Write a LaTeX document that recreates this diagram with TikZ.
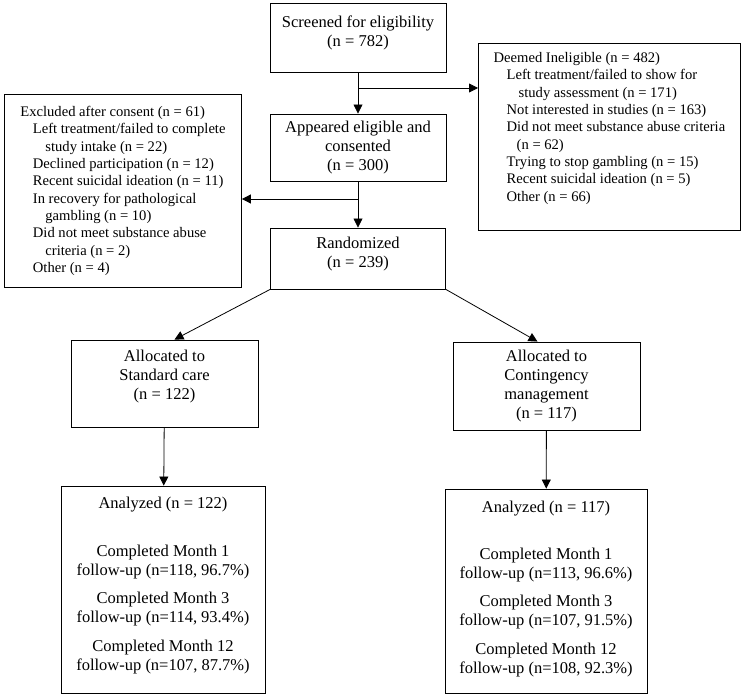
\documentclass[tikz,border=0pt]{standalone}
\usepackage{fontspec}
\setmainfont{Liberation Serif}
\usetikzlibrary{arrows.meta}

\begin{document}
\begin{tikzpicture}[x=1pt,y=-1pt,
    box/.style={draw,line width=0.9pt,align=center,inner sep=0pt,font=\fontsize{16.5}{19}\selectfont},
    sidebox/.style={draw,line width=0.9pt,anchor=north west,align=left,inner sep=0pt,font=\fontsize{14.6}{17.3}\selectfont},
    arr/.style={line width=0.8pt,-{Triangle[length=9pt,width=9pt]}}]
    \useasboundingbox (0,0) rectangle (745,698);

    \node[box,minimum width=176pt,minimum height=69pt] (screen) at (358,37.5) {Screened for eligibility\\(n = 782)\\[-6pt]};
    \node[box,minimum width=176pt,minimum height=67pt] (elig) at (358,147.5) {Appeared eligible and\\consented\\(n = 300)};
    \node[box,minimum width=175pt,minimum height=61pt] (rand) at (358,258.5) {Randomized\\(n = 239)\\[-7pt]};

    \node[sidebox,minimum width=237pt,minimum height=193pt] (excl) at (4,94) {Excluded after consent (n = 61)\\
        \hspace*{12.5pt}Left treatment/failed to complete\\
        \hspace*{25pt}study intake (n = 22)\\
        \hspace*{12.5pt}Declined participation (n = 12)\\
        \hspace*{12.5pt}Recent suicidal ideation (n = 11)\\
        \hspace*{12.5pt}In recovery for pathological\\
        \hspace*{25pt}gambling (n = 10)\\
        \hspace*{12.5pt}Did not meet substance abuse\\
        \hspace*{25pt}criteria (n = 2)\\
        \hspace*{12.5pt}Other (n = 4)};
    \node[sidebox,minimum width=262pt,minimum height=187pt] (inelig) at (478,43) {Deemed Ineligible (n = 482)\\
        \hspace*{13pt}Left treatment/failed to show for\\
        \hspace*{25pt}study assessment (n = 171)\\
        \hspace*{13pt}Not interested in studies (n = 163)\\
        \hspace*{13pt}Did not meet substance abuse criteria\\
        \hspace*{23pt}(n = 62)\\
        \hspace*{13pt}Trying to stop gambling (n = 15)\\
        \hspace*{13pt}Recent suicidal ideation (n = 5)\\
        \hspace*{13pt}Other (n = 66)\\[3pt]};

    \node[box,minimum width=187pt,minimum height=87pt] (allocSC) at (164.5,383.5) {Allocated to\\Standard care\\(n = 122)\\[-2pt]};
    \node[box,minimum width=187pt,minimum height=88pt] (allocCM) at (546.5,386) {Allocated to\\Contingency\\management\\(n = 117)};

    \node[box,minimum width=204pt,minimum height=207pt] (analSC) at (163,589.5) {Analyzed (n = 122)\\[29pt]
        Completed Month 1\\follow-up (n=118, 96.7\%)\\[9pt]
        Completed Month 3\\follow-up (n=114, 93.4\%)\\[10pt]
        Completed Month 12\\follow-up (n=107, 87.7\%)\\[-8pt]};
    \node[box,minimum width=202pt,minimum height=204pt] (analCM) at (546,591) {Analyzed (n = 117)\\[28pt]
        Completed Month 1\\follow-up (n=113, 96.6\%)\\[9pt]
        Completed Month 3\\follow-up (n=107, 91.5\%)\\[10pt]
        Completed Month 12\\follow-up (n=108, 92.3\%)\\[-11pt]};

    \coordinate (splitA) at (358,88);
    \coordinate (splitB) at (358,199);

    \draw[arr] (screen) -- (elig);
    \draw[arr] (elig) -- (rand);
    \draw[arr] (splitA) -- (splitA -| inelig.west);
    \draw[arr] (splitB) -- (splitB -| excl.east);
    \draw[arr] (rand.south west) -- ([xshift=10pt]allocSC.north);
    \draw[arr] (rand.south east) -- ([xshift=-9pt]allocCM.north);
    \draw[arr] (allocSC) -- (analSC);
    \draw[arr] (allocCM) -- (analCM);
\end{tikzpicture}
\end{document}
